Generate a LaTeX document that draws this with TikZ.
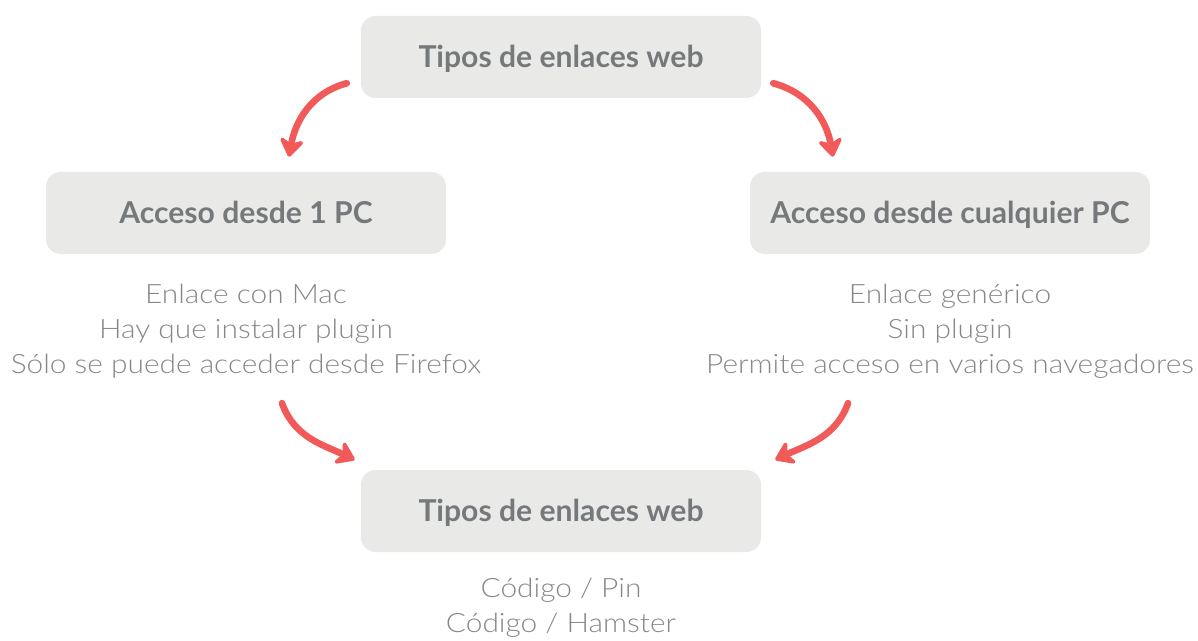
\documentclass[tikz,border=0pt]{standalone}
\usepackage{fontspec}
\setmainfont{Lato}[UprightFont=* Light, BoldFont=* Bold]
\newfontfamily\bodyfont{Lato}[UprightFont=* Light, FakeStretch=1.12]
\usetikzlibrary{positioning,arrows.meta}
\definecolor{boxgray}{HTML}{E9EAE8}
\definecolor{titlegray}{HTML}{76797B}
\definecolor{textgray}{HTML}{858789}
\definecolor{arrowred}{HTML}{F25A5A}
\tikzset{box/.style={rectangle,rounded corners=11pt,fill=boxgray,minimum width=300pt,minimum height=61.5pt,inner sep=0pt,text height=16.2pt,text depth=0pt,text=titlegray,font=\fontsize{22.6}{26}\selectfont\bfseries},
info/.style={align=center,text=textgray,font=\bodyfont\fontsize{20}{26.25}\selectfont,inner sep=0pt},
arr/.style={draw,color=arrowred,line width=5pt,line cap=round,-{Stealth[round,length=16pt,width=22pt,inset=5pt]}},
}

\begin{document}
\begin{tikzpicture}[x=0.75pt,y=0.75pt]
				\useasboundingbox (0,0) rectangle (1198,640);
				\node[box] (top) at (561,583) {Tipos de enlaces web};
				\node[box] (left) at (246,427) {Acceso desde 1 PC};
				\node[box] (right) at (950,427) {Acceso desde cualquier PC};
				\node[box] (bottom) at (561,129) {Tipos de enlaces web};
				
				\node[info] (lefttxt) at (246,309) {Enlace con Mac\\Hay que instalar plugin\\Sólo se puede acceder desde Firefox};
				\node[info] (righttxt) at (950,309) {Enlace genérico\\Sin plugin\\Permite acceso en varios navegadores};
				\node[info] (bottomtxt) at (561,32) {Código / Pin\\Código / Hamster};
				
				\path
				([shift={(-14,15)}]top.south west) edge[arr,out=195,in=80] ([shift={(43,15)}]left.north)
				([shift={(12,15)}]top.south east) edge[arr,out=-15,in=100] ([shift={(-117,15)}]right.north)
				([shift={(36,-149)}]left.south) edge[arr,out=-70,in=155] ([shift={(-6,10)}]bottom.north west)
				([shift={(-102,-149)}]right.south) edge[arr,out=250,in=25] ([shift={(14,10)}]bottom.north east);
				
			\end{tikzpicture}
\end{document}
